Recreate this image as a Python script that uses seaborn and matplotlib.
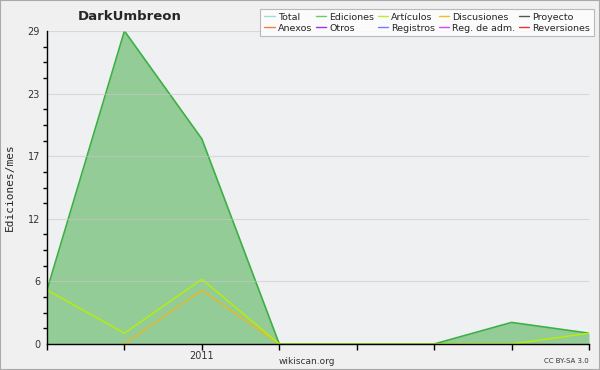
import numpy as np
import pandas as pd
import seaborn as sns
import matplotlib.pyplot as plt
from matplotlib.lines import Line2D
from matplotlib.patches import Rectangle
from matplotlib.ticker import FixedLocator, MultipleLocator

# Datos mensuales (8 meses, 2011 en el tercero)
meses = list(range(8))
etiquetas_x = ["", "", "2011", "", "", "", "", ""]
ediciones = [5, 29, 19, 0, 0, 0, 2, 1]
articulos = [5, 1, 6, 0, 0, 0, 0, 1]
discusiones = [np.nan, 0, 5, 0, np.nan, np.nan, np.nan, np.nan]

series = ["Total", "Ediciones", "Artículos", "Discusiones", "Proyecto",
          "Anexos", "Otros", "Registros", "Reg. de adm.", "Reversiones"]
colores = ["#99dddd", "#66cc66", "#bbee22", "#f0c020", "#555555",
           "#f08040", "#9933ee", "#7777ff", "#dd44ee", "#ee3333"]
color = dict(zip(series, colores))

ymax = 29
yticks = [ymax * k / 5 for k in range(6)]
yticklabels = [str(int(round(v))) for v in yticks]

df = pd.DataFrame({"mes": meses, "Ediciones": ediciones,
                   "Artículos": articulos, "Discusiones": discusiones})

sns.set_theme(style="white")
plt.rcParams['font.family'] = ['DejaVu Sans']

fig = plt.figure(figsize=(6, 3.7), dpi=100, facecolor="#f0f0f0")
ax = fig.add_axes([47/600, 26/370, 542/600, 313/370])
ax.set_facecolor("#eff0f2")

ax.fill_between(df["mes"], df["Ediciones"], color="#94cc98", lw=0)
sns.lineplot(data=df, x="mes", y="Ediciones", color="#3cb043", lw=1.2, ax=ax)
sns.lineplot(data=df.dropna(subset=["Discusiones"]), x="mes", y="Discusiones",
             color="#e8b820", lw=1, ax=ax)
sns.lineplot(data=df, x="mes", y="Artículos", color="#b8f000", lw=1, ax=ax)

ax.set_xlim(0, 7)
ax.set_ylim(0, ymax)
ax.set_xticks(meses)
ax.set_xticklabels(etiquetas_x, fontsize=7, color="#333333")
ax.yaxis.set_major_locator(FixedLocator(yticks))
ax.set_yticklabels(yticklabels, fontsize=7, color="#333333")
ax.yaxis.set_minor_locator(MultipleLocator(ymax / 20))
ax.tick_params(axis="both", which="major", direction="out", length=4, width=1, color="black", pad=1)
ax.tick_params(axis="y", which="minor", direction="out", length=3, width=1, color="black", left=True)
ax.tick_params(axis="x", bottom=True)
ax.grid(axis="y", color="#c8c8c8", lw=0.8)
ax.set_axisbelow(False)
for s in ["top", "right"]:
    ax.spines[s].set_visible(False)
for s in ["left", "bottom"]:
    ax.spines[s].set_color("black")
    ax.spines[s].set_linewidth(1)
    ax.spines[s].set_zorder(5)
for gl in ax.yaxis.get_gridlines():
    gl.set_alpha(0.6)
ax.set_xlabel("")
ax.set_ylabel("Ediciones/mes", fontsize=8, family="DejaVu Sans Mono", labelpad=9)

# Leyenda en filas (matplotlib rellena por columnas)
orden = [0, 5, 1, 6, 2, 7, 3, 8, 4, 9]
handles = [Line2D([], [], color=color[series[i]], lw=1) for i in orden]
labels = [series[i] for i in orden]
leg = fig.legend(handles, labels, ncol=5, loc="upper right",
                 bbox_to_anchor=(594/600, 1 - 9/370), fontsize=6.8,
                 frameon=True, fancybox=False, edgecolor="#aaaaaa",
                 handlelength=1.1, handletextpad=0.35, columnspacing=0.35,
                 labelspacing=0.2, borderpad=0.4, borderaxespad=0)
leg.get_frame().set_facecolor("white")
leg.get_frame().set_linewidth(0.8)

fig.text(130/600, 1 - 17/370, "DarkUmbreon", ha="center", va="center",
         fontsize=9.5, fontweight="bold")
fig.text(307/600, 1 - 361/370, "wikiscan.org", ha="center", va="center",
         fontsize=6.5, color="#333333")
fig.text(589/600, 1 - 361/370, "CC BY-SA 3.0", ha="right", va="center",
         fontsize=5, color="#333333")
fig.patches.append(Rectangle((0, 0), 1, 1, transform=fig.transFigure,
                             fill=False, edgecolor="#aaaaaa", lw=1.5))

fig.savefig("out.png", dpi=100, facecolor=fig.get_facecolor())
